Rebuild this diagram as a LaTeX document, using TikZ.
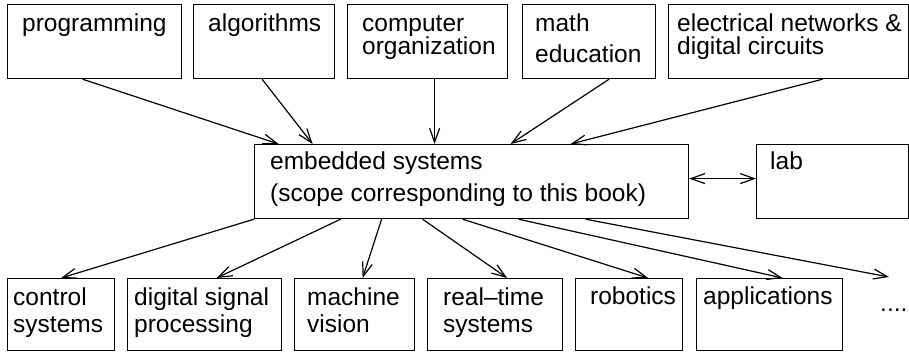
\documentclass[tikz,border=0pt]{standalone}
\usepackage{fontspec}
\setmainfont{Liberation Sans}
\usetikzlibrary{arrows.meta}
\tikzset{
  box/.style={draw,line width=1.2pt,anchor=north west,inner sep=0pt},
  txt/.style={anchor=base west,align=left,inner sep=0pt,font=\fontsize{24.5}{23}\selectfont},
  dep/.style={-{Straight Barb[length=14pt,width=10pt]},line width=1.2pt}
}
\begin{document}
\begin{tikzpicture}[x=1pt,y=-1pt]
  \useasboundingbox (0,0) rectangle (909,352);

  % top row (text nodes sit on the baseline of their last line)
  \node[box,minimum width=174,minimum height=74] (prog) at (7,4) {};
  \node[box,minimum width=141,minimum height=74] (algo) at (193,4) {};
  \node[box,minimum width=160,minimum height=74] (comp) at (347,4) {};
  \node[box,minimum width=133,minimum height=74] (math) at (522,4) {};
  \node[box,minimum width=240,minimum height=74] (elec) at (668,4) {};
  \node[txt] (progtxt) at (22,32) {programming};
  \node[txt] (algotxt) at (208,32) {algorithms};
  \node[txt] (comptxt) at (362,55) {computer\\organization};
  \node[txt] (mathtxt) at (535,63) {math\\[8pt]education};
  \node[txt] (electxt) at (677,55) {electrical networks \&\\digital circuits};

  % middle
  \node[box,minimum width=434,minimum height=74] (emb) at (254,144) {};
  \node[box,minimum width=152,minimum height=74] (lab) at (756,144) {};
  \node[txt] (embtxt) at (270,202) {embedded systems\\[9pt](scope corresponding to this book)};
  \node[txt] (labtxt) at (770,170) {lab};

  % bottom row
  \node[box,minimum width=107,minimum height=72] (ctrl) at (7,278) {};
  \node[box,minimum width=154,minimum height=72] (dsp) at (127,278) {};
  \node[box,minimum width=120,minimum height=72] (mach) at (294,278) {};
  \node[box,minimum width=135,minimum height=72] (rt) at (427,278) {};
  \node[box,minimum width=107,minimum height=72] (rob) at (575,278) {};
  \node[box,minimum width=146,minimum height=72] (app) at (696,278) {};
  \node[txt] (ctrltxt) at (13,332) {control\\[4pt]systems};
  \node[txt] (dsptxt) at (134,332) {digital signal\\[4pt]processing};
  \node[txt] (machtxt) at (307,332) {machine\\[4pt]vision};
  \node[txt] (rttxt) at (443,332) {real–time\\[4pt]systems};
  \node[txt] (robtxt) at (590,305) {robotics};
  \node[txt] (apptxt) at (703,305) {applications};
  \node[txt] (dots) at (880,312) {....};
  \coordinate (more) at (889,277);

  % arrows in
  \draw[dep] ([xshift=-12]prog.south) -- ([xshift=-193]emb.north);
  \draw[dep] ([xshift=-2]algo.south) -- ([xshift=-159]emb.north);
  \draw[dep] ([xshift=7]comp.south) -- ([xshift=-37]emb.north);
  \draw[dep] ([xshift=20]math.south) -- ([xshift=39]emb.north);
  \draw[dep] ([xshift=34]elec.south) -- ([xshift=99]emb.north);

  \draw[dep,{Straight Barb[length=14pt,width=10pt]}-{Straight Barb[length=14pt,width=10pt]}]
    ([yshift=3]emb.east) -- ([yshift=3]lab.west);

  % arrows out
  \draw[dep] (emb.south west) -- (ctrl.north);
  \foreach \dx/\b/\bx in {-131/dsp/12,-90/mach/8,-49/rt/12,-9/rob/19,47/app/13}{
    \draw[dep] ([xshift=\dx]emb.south) -- ([xshift=\bx]\b.north);
  }
  \draw[dep] ([xshift=114]emb.south) -- (more);
\end{tikzpicture}
\end{document}
